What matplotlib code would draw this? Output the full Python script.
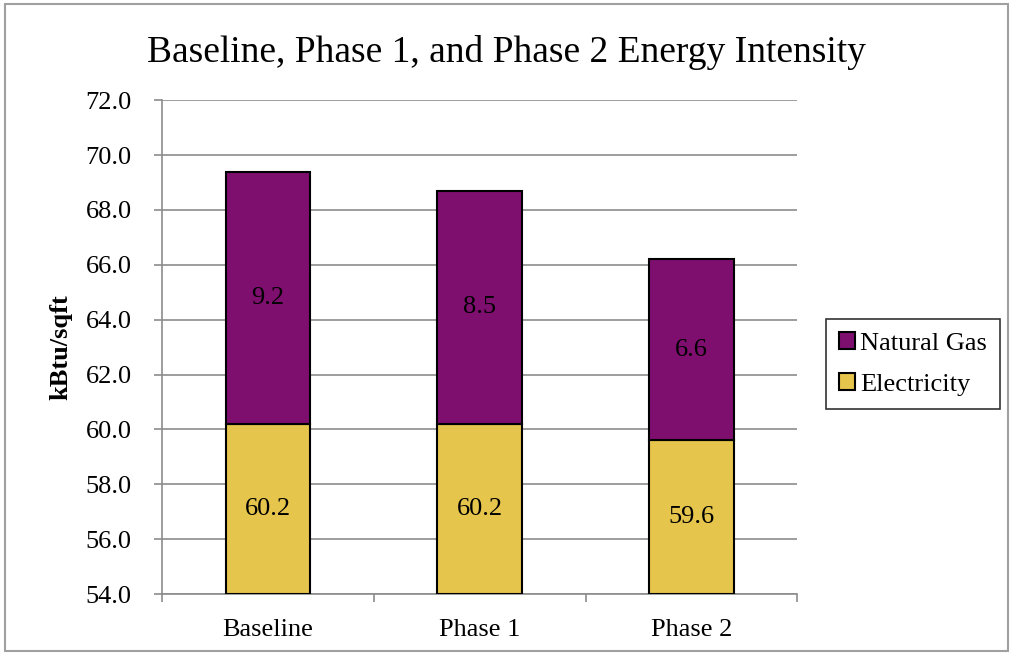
import matplotlib.pyplot as plt
import numpy as np
from matplotlib.patches import Rectangle

# chart data
categories = ["Baseline", "Phase 1", "Phase 2"]
electricity = [60.2, 60.2, 59.6]
natural_gas = [9.2, 8.5, 6.6]
yticks = np.arange(54, 72.1, 2)

plt.rcParams['font.family'] = ['Liberation Serif', 'DejaVu Serif']

gold = "#E5C54C"
purple = "#7F0F6F"
fs = 19

fig = plt.figure(figsize=(10.13, 6.54), dpi=100)
ax = fig.add_axes([0.160, 0.0917, 0.627, 0.755])

# grey border around the whole chart
fig.patches.append(Rectangle((0.005, 0.004), 0.99, 0.99, transform=fig.transFigure,
                             fill=False, edgecolor="#A0A0A0", linewidth=1.5))

x = np.arange(len(categories))
bottom = 54
b1 = ax.bar(x, np.array(electricity) - bottom, 0.4, bottom=bottom, color=gold,
            edgecolor="black", linewidth=1.5, label="Electricity", zorder=3)
b2 = ax.bar(x, natural_gas, 0.4, bottom=electricity, color=purple,
            edgecolor="black", linewidth=1.5, label="Natural Gas", zorder=3)

for i in range(len(categories)):
    ax.text(x[i], (bottom + electricity[i]) / 2, f"{electricity[i]:.1f}",
            ha="center", va="center", fontsize=fs, zorder=4)
    ax.text(x[i], electricity[i] + natural_gas[i] / 2, f"{natural_gas[i]:.1f}",
            ha="center", va="center", fontsize=fs, zorder=4)

ax.set_xlim(-0.5, len(categories) - 0.5)
ax.set_ylim(54, 72)
ax.set_yticks(yticks)
ax.set_yticklabels([f"{v:.1f}" for v in yticks], fontsize=fs)
ax.yaxis.grid(True, color="#8C8C8C", linewidth=1.2)
ax.set_axisbelow(True)

# category ticks sit between bars
ax.set_xticks(x)
ax.set_xticklabels(categories, fontsize=fs)
ax.tick_params(axis="x", length=0, pad=18)
ax.set_xticks(np.arange(-0.5, len(categories)), minor=True)
ax.tick_params(axis="x", which="minor", length=6, color="#8C8C8C", width=1.2)
ax.tick_params(axis="y", length=6, color="#8C8C8C", width=1.2, pad=16)

for s in ["top", "right"]:
    ax.spines[s].set_visible(False)
ax.spines["left"].set_color("#8C8C8C")
ax.spines["bottom"].set_color("#8C8C8C")
ax.spines["left"].set_linewidth(1.2)
ax.spines["bottom"].set_linewidth(1.2)

ax.set_ylabel("kBtu/sqft", fontsize=fs, fontweight="bold", labelpad=9)
fig.suptitle("Baseline, Phase 1, and Phase 2 Energy Intensity", fontsize=27, y=0.947)

leg = ax.legend([b2, b1], ["Natural Gas", "Electricity"], loc="center left",
                bbox_to_anchor=(1.045, 0.466), fontsize=fs, frameon=True, fancybox=False,
                handlelength=0.6, handleheight=0.6, handletextpad=0.2,
                labelspacing=0.7, borderpad=0.5, borderaxespad=0)
leg.get_frame().set_edgecolor("black")
leg.get_frame().set_linewidth(1.2)

fig.savefig("out.png", dpi=100)
